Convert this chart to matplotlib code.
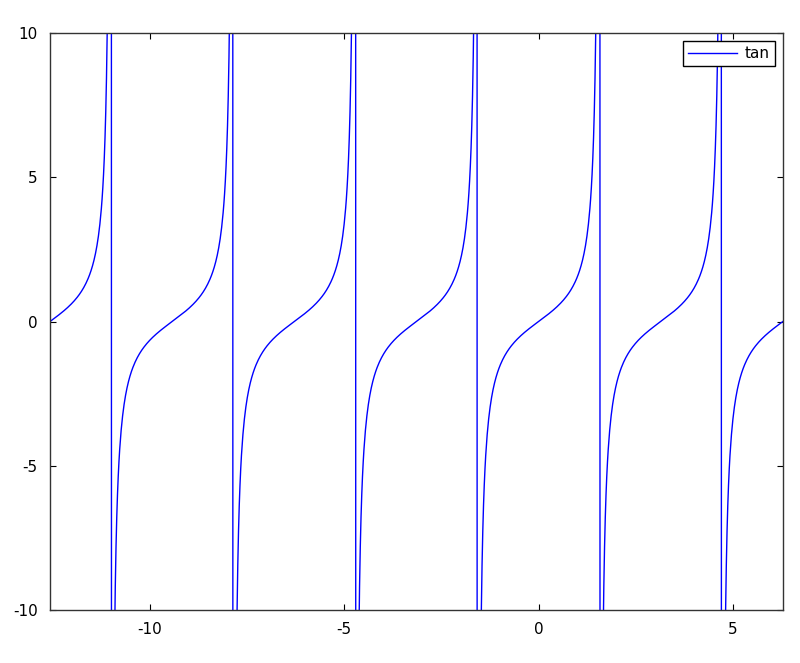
import numpy as np
import matplotlib
matplotlib.use("Agg")
import matplotlib.pyplot as plt

plt.rcParams["axes.unicode_minus"] = False

# plotted function: y = tan(x) sampled on [-4*pi, 2*pi]
x_start = -4 * np.pi
x_end = 2 * np.pi
n_points = 1000
x = np.linspace(x_start, x_end, n_points)
y = np.tan(x)

x_ticks = [-10, -5, 0, 5]
y_ticks = [-10, -5, 0, 5, 10]
series_label = "tan"

fig = plt.figure(figsize=(8, 6.63), dpi=100)
ax = fig.add_axes([0.0625, 0.08, 0.916, 0.870])

ax.plot(x, y, color="#0000ff", linewidth=1.0, label=series_label)

ax.set_xlim(x_start, x_end)
ax.set_ylim(-10, 10)
ax.set_xticks(x_ticks)
ax.set_yticks(y_ticks)
ax.tick_params(direction="in", top=True, right=True, length=4, labelsize=11, pad=9)
for s in ax.spines.values():
    s.set_color("#333333")
    s.set_linewidth(1.0)

leg = ax.legend(loc="upper right", fontsize=11, fancybox=False, framealpha=1,
                edgecolor="black", handlelength=3.2, borderaxespad=0.5,
                borderpad=0.35, handletextpad=0.5)
leg.get_frame().set_linewidth(1.0)

fig.savefig("out.png", dpi=100)
